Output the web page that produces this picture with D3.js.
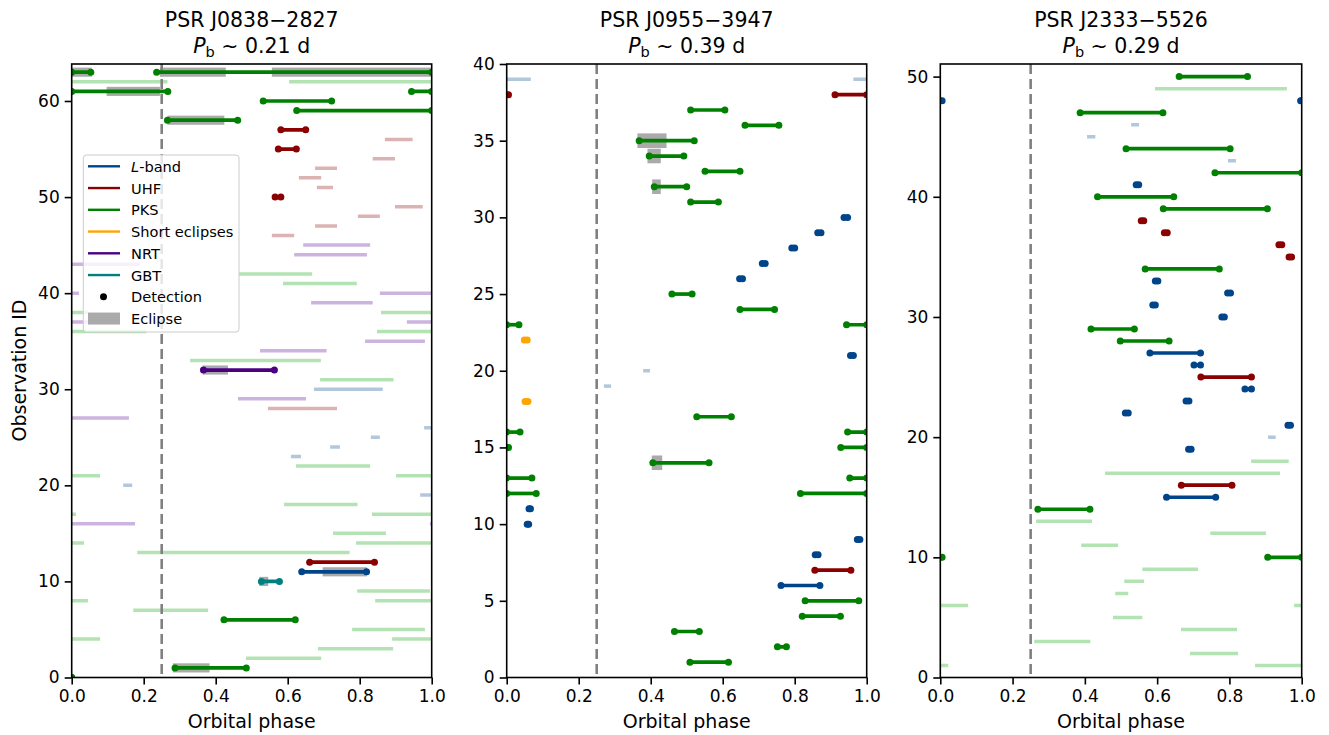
<!DOCTYPE html>
<html><head><meta charset="utf-8">
<script src="https://cdn.jsdelivr.net/npm/d3@7"></script>
<style>
body{margin:0;background:#fff;}
text{font-family:"DejaVu Sans",sans-serif;}
</style>
</head><body>
<svg id="c" width="1329" height="735" xmlns="http://www.w3.org/2000/svg"></svg>
<script>
// ---------------- DATA ----------------
const pulsars = ["PSR J0838\u22122827", "PSR J0955\u22123947", "PSR J2333\u22125526"];
const orbitalPeriods = ["0.21", "0.39", "0.29"];
const xTicks = [0, 0.2, 0.4, 0.6, 0.8, 1.0];
const yTicks1 = [0, 10, 20, 30, 40, 50, 60];
const yTicks2 = [0, 5, 10, 15, 20, 25, 30, 35, 40];
const yTicks3 = [0, 10, 20, 30, 40, 50];
const yMax = [63.85, 40, 51.05];
const refPhase = 0.25;

// detections: [obsID, band, startPhase, endPhase]
const det1 = [
  [63,"PKS",0,0.053],[63,"PKS",0.236,1.0],
  [61,"PKS",0,0.267],[61,"PKS",0.944,1.0],
  [60,"PKS",0.532,0.722],[59,"PKS",0.625,1.0],[58,"PKS",0.266,0.461],
  [57,"UHF",0.581,0.650],[55,"UHF",0.574,0.624],[50,"UHF",0.565,0.581],
  [32,"NRT",0.366,0.563],[12,"UHF",0.661,0.841],[11,"L",0.639,0.819],
  [10,"GBT",0.527,0.577],[6,"PKS",0.423,0.621],[1,"PKS",0.287,0.485],
  [0,"PKS",0,0]
];
// non-detection coverage: [obsID, band, startPhase, endPhase]
const obs1 = [
  [62,"PKS",0,0.266],[62,"PKS",0.604,1],
  [56,"UHF",0.870,0.947],[54,"UHF",0.836,0.898],[53,"UHF",0.676,0.737],
  [52,"UHF",0.631,0.693],[51,"UHF",0.681,0.726],[49,"UHF",0.898,0.975],
  [48,"UHF",0.795,0.856],[47,"UHF",0.676,0.737],[46,"UHF",0.556,0.618],
  [45,"NRT",0.643,0.829],[44,"NRT",0.618,0.820],[43,"NRT",0,0.190],
  [42,"PKS",0.465,0.668],[41,"PKS",0.587,0.792],
  [40,"NRT",0,0.020],[40,"NRT",0.856,1],[39,"NRT",0.665,0.836],
  [38,"PKS",0,0.045],[38,"PKS",0.859,1],[37,"NRT",0,0.045],[37,"NRT",0.931,1],
  [36,"PKS",0,0.207],[36,"PKS",0.848,1],[35,"NRT",0.815,0.981],
  [34,"NRT",0.523,0.708],[33,"PKS",0.329,0.692],[31,"PKS",0.690,0.894],
  [30,"L",0.673,0.864],[29,"NRT",0.462,0.651],[28,"UHF",0.545,0.737],
  [27,"NRT",0,0.159],[26,"L",0.979,1],[25,"L",0.831,0.856],[24,"L",0.718,0.745],
  [23,"L",0.609,0.637],[22,"PKS",0.623,0.829],[21,"PKS",0,0.079],[21,"PKS",0.901,1],
  [20,"L",0.143,0.168],[19,"L",0.968,0.998],[18,"PKS",0.590,0.794],
  [17,"PKS",0,0.012],[17,"PKS",0.834,1],[16,"NRT",0,0.176],[16,"NRT",0.995,1],
  [15,"PKS",0.726,0.873],[14,"PKS",0,0.034],[14,"PKS",0.790,1],
  [13,"PKS",0.182,0.772],[9,"PKS",0.793,0.995],[8,"PKS",0,0.045],[8,"PKS",0.843,1],
  [7,"PKS",0.171,0.379],[5,"PKS",0.779,0.981],[4,"PKS",0,0.079],[4,"PKS",0.890,1],
  [3,"PKS",0.684,0.893],[2,"PKS",0.484,0.693]
];
// eclipses: [obsID, startPhase, endPhase]
const ecl1 = [
  [63,0,0.056],[63,0.245,0.428],[63,0.556,1.0],[61,0.097,0.245],[58,0.266,0.424],
  [32,0.364,0.434],[11,0.697,0.820],[10,0.521,0.546],[1,0.281,0.383]
];

const det2 = [
  [38,"UHF",0,0.005],[38,"UHF",0.912,1],
  [37,"PKS",0.511,0.606],[36,"PKS",0.662,0.756],[35,"PKS",0.368,0.521],
  [34,"PKS",0.396,0.492],[33,"PKS",0.551,0.648],[32,"PKS",0.410,0.500],
  [31,"PKS",0.511,0.588],[30,"L",0.937,0.947],[29,"L",0.864,0.873],
  [28,"L",0.792,0.800],[27,"L",0.710,0.718],[26,"L",0.647,0.655],
  [25,"PKS",0.459,0.515],[24,"PKS",0.648,0.744],[23,"PKS",0,0.034],[23,"PKS",0.944,1],
  [22,"SE",0.049,0.057],[21,"L",0.955,0.963],[18,"SE",0.051,0.059],
  [17,"PKS",0.528,0.624],[16,"PKS",0,0.037],[16,"PKS",0.947,1],
  [15,"PKS",0,0.005],[15,"PKS",0.928,1],[14,"PKS",0.406,0.562],
  [13,"PKS",0,0.070],[13,"PKS",0.953,1],[12,"PKS",0,0.082],[12,"PKS",0.816,1],
  [11,"L",0.062,0.066],[10,"L",0.057,0.061],[9,"L",0.974,0.981],[8,"L",0.857,0.865],
  [7,"UHF",0.856,0.956],[6,"L",0.762,0.870],[5,"PKS",0.829,0.978],
  [4,"PKS",0.821,0.927],[3,"PKS",0.466,0.535],[2,"PKS",0.752,0.777],[1,"PKS",0.509,0.616]
];
const obs2 = [
  [39,"L",0,0.067],[39,"L",0.963,1],[20,"L",0.379,0.398],[19,"L",0.270,0.290]
];
const ecl2 = [
  [35,0.363,0.444],[34,0.391,0.428],[32,0.404,0.428],[14,0.403,0.432]
];

const det3 = [
  [50,"PKS",0.661,0.850],[48,"L",0,0.005],[48,"L",0.997,1],
  [47,"PKS",0.387,0.616],[44,"PKS",0.514,0.802],[42,"PKS",0.760,1.0],
  [41,"L",0.542,0.549],[40,"PKS",0.435,0.646],[39,"PKS",0.617,0.905],
  [38,"UHF",0.556,0.563],[37,"UHF",0.620,0.628],[36,"UHF",0.937,0.945],
  [35,"UHF",0.965,0.972],[34,"PKS",0.567,0.772],[33,"L",0.595,0.602],
  [32,"L",0.795,0.803],[31,"L",0.588,0.595],[30,"L",0.779,0.786],
  [29,"PKS",0.417,0.537],[28,"PKS",0.498,0.633],[27,"L",0.580,0.720],
  [26,"L",0.702,0.720],[25,"UHF",0.721,0.861],[24,"L",0.843,0.861],
  [23,"L",0.680,0.688],[22,"L",0.512,0.520],[21,"L",0.962,0.969],
  [19,"L",0.687,0.694],[16,"UHF",0.667,0.807],[15,"L",0.626,0.762],
  [14,"PKS",0.270,0.414],[10,"PKS",0,0.005],[10,"PKS",0.906,1]
];
const obs3 = [
  [49,"PKS",0.594,0.959],[46,"L",0.528,0.550],[45,"L",0.406,0.429],[43,"L",0.796,0.818],
  [20,"L",0.907,0.928],[18,"PKS",0.860,0.964],[17,"PKS",0.456,0.940],
  [13,"PKS",0.265,0.420],[12,"PKS",0.747,0.901],[11,"PKS",0.390,0.492],
  [9,"PKS",0.559,0.713],[8,"PKS",0.509,0.564],[7,"PKS",0.484,0.520],
  [6,"PKS",0,0.077],[6,"PKS",0.979,1],[5,"PKS",0.478,0.559],[4,"PKS",0.666,0.821],
  [3,"PKS",0.260,0.415],[2,"PKS",0.691,0.824],[1,"PKS",0,0.022],[1,"PKS",0.871,1]
];
const ecl3 = [];

const bandNames = ["L","UHF","PKS","SE","NRT","GBT"];
const legendLabels = ["-band","UHF","PKS","Short eclipses","NRT","GBT","Detection","Eclipse"];

// ---------------- STYLE ----------------
const colors = {L:"#00448a", UHF:"#8b0000", PKS:"#008000", SE:"#ffa500", NRT:"#4b0082", GBT:"#008080"};
const lightColors = {L:"#b3c7dc", UHF:"#dcb3b3", PKS:"#b3e2b3", SE:"#ffe4b3", NRT:"#cdb3df", GBT:"#b3d9d9"};
const eclColor = "#aaaaaa";

const panels = [
  {x0:71.7, x1:431.7, det:det1, obs:obs1, ecl:ecl1, yt:yTicks1},
  {x0:506.7, x1:866.7, det:det2, obs:obs2, ecl:ecl2, yt:yTicks2},
  {x0:940.3, x1:1301.7, det:det3, obs:obs3, ecl:ecl3, yt:yTicks3}
];
const plotTop = 64, plotBottom = 677.5;

const svg = d3.select("#c");
const defs = svg.append("defs");

panels.forEach((p, i) => {
  const x = d3.scaleLinear().domain([0,1]).range([p.x0, p.x1]);
  const y = d3.scaleLinear().domain([0, yMax[i]]).range([plotBottom, plotTop]);
  const g = svg.append("g");
  defs.append("clipPath").attr("id","clip"+i)
    .append("rect").attr("x",p.x0).attr("y",plotTop).attr("width",p.x1-p.x0).attr("height",plotBottom-plotTop);
  const pg = g.append("g").attr("clip-path","url(#clip"+i+")");

  // eclipses
  pg.selectAll("rect.ecl").data(p.ecl).join("rect").attr("class","ecl")
    .attr("x", d => x(d[1])).attr("width", d => x(d[2]) - x(d[1]))
    .attr("y", d => y(d[0] + 0.475)).attr("height", d => y(d[0] - 0.475) - y(d[0] + 0.475))
    .attr("fill", eclColor);

  // non-detection coverage
  pg.selectAll("line.obs").data(p.obs).join("line").attr("class","obs")
    .attr("x1", d => x(d[2])).attr("x2", d => x(d[3]))
    .attr("y1", d => y(d[0])).attr("y2", d => y(d[0]))
    .attr("stroke", d => lightColors[d[1]]).attr("stroke-width", 3.5);

  // reference dashed line
  pg.append("line").attr("x1", x(refPhase)).attr("x2", x(refPhase))
    .attr("y1", plotTop).attr("y2", plotBottom)
    .attr("stroke", "#808080").attr("stroke-width", 2.6).attr("stroke-dasharray", "10,5");

  // detections
  pg.selectAll("line.det").data(p.det).join("line").attr("class","det")
    .attr("x1", d => x(d[2])).attr("x2", d => x(d[3]))
    .attr("y1", d => y(d[0])).attr("y2", d => y(d[0]))
    .attr("stroke", d => colors[d[1]]).attr("stroke-width", 3.7);
  const pts = [];
  p.det.forEach(d => { pts.push([d[0], d[1], d[2]]); pts.push([d[0], d[1], d[3]]); });
  pg.selectAll("circle.det").data(pts).join("circle").attr("class","det")
    .attr("cx", d => x(d[2])).attr("cy", d => y(d[0])).attr("r", 3.5)
    .attr("fill", d => colors[d[1]]);

  // axes
  const xa = g.append("g").attr("transform", `translate(0,${plotBottom})`)
    .call(d3.axisBottom(x).tickValues(xTicks).tickFormat(d3.format(".1f")).tickSize(7).tickPadding(5).tickSizeOuter(0));
  const ya = g.append("g").attr("transform", `translate(${p.x0},0)`)
    .call(d3.axisLeft(y).tickValues(p.yt).tickFormat(d3.format("d")).tickSize(7).tickPadding(5).tickSizeOuter(0));
  [xa, ya].forEach(a => {
    a.select(".domain").remove();
    a.selectAll(".tick line").attr("stroke","#000").attr("stroke-width",1.6);
    a.selectAll(".tick text").attr("font-size","17px").attr("fill","#000")
      .attr("font-family","DejaVu Sans, sans-serif");
  });
  g.append("rect").attr("x",p.x0).attr("y",plotTop).attr("width",p.x1-p.x0).attr("height",plotBottom-plotTop)
    .attr("fill","none").attr("stroke","#000").attr("stroke-width",1.6);

  // x label
  g.append("text").attr("x",(p.x0+p.x1)/2).attr("y",728).attr("text-anchor","middle")
    .attr("font-size","19px").text("Orbital phase");

  // titles
  const cx = (p.x0+p.x1)/2;
  g.append("text").attr("x",cx).attr("y",27).attr("text-anchor","middle")
    .attr("font-size","20.5px").text(pulsars[i]);
  const t2 = g.append("text").attr("x",cx).attr("y",53).attr("text-anchor","middle").attr("font-size","20.5px");
  t2.append("tspan").attr("font-style","italic").text("P");
  t2.append("tspan").attr("font-size","14.5px").attr("dy",4).text("b");
  t2.append("tspan").attr("dy",-4).text(" \u223C " + orbitalPeriods[i] + " d");
});

// y label
svg.append("text").attr("transform","translate(19,370.5) rotate(-90)")
  .attr("text-anchor","middle").attr("dominant-baseline","central")
  .attr("font-size","19px").text("Observation ID");

// legend
const lg = svg.append("g");
lg.append("rect").attr("x",83.3).attr("y",155).attr("width",155.7).attr("height",177)
  .attr("rx",3).attr("fill","#fff").attr("fill-opacity",0.8).attr("stroke","#cccccc").attr("stroke-width",1);
legendLabels.forEach((lab, k) => {
  const yy = 166.3 + k*21.75;
  if (k < 6) {
    lg.append("line").attr("x1",88).attr("x2",120).attr("y1",yy).attr("y2",yy)
      .attr("stroke", colors[bandNames[k]]).attr("stroke-width",2.4);
  } else if (k === 6) {
    lg.append("circle").attr("cx",103.5).attr("cy",yy).attr("r",3.5).attr("fill","#000");
  } else {
    lg.append("rect").attr("x",88).attr("y",yy-6).attr("width",32).attr("height",12).attr("fill",eclColor);
  }
  const t = lg.append("text").attr("x",131).attr("y",yy).attr("dominant-baseline","central")
    .attr("font-size","14.6px");
  if (k === 0) { t.append("tspan").attr("font-style","italic").text("L"); t.append("tspan").text(lab); }
  else t.text(lab);
});
</script>
</body></html>
